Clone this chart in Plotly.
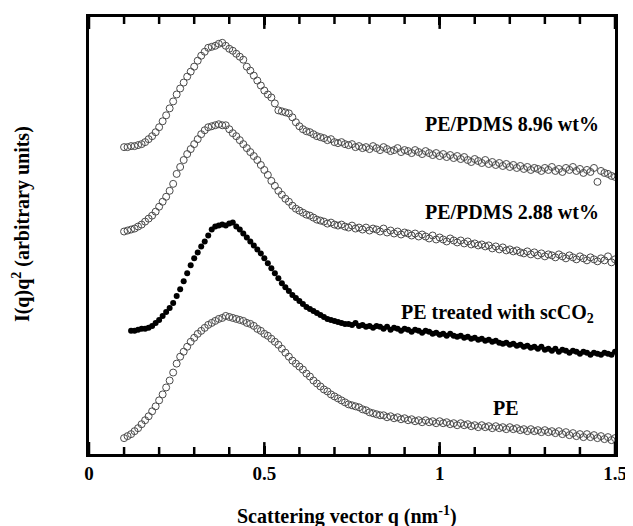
import plotly.graph_objects as go

# Scattering vector q (nm^-1), shared grid
q = [0.10, 0.11, 0.12, 0.13, 0.14, 0.15, 0.16, 0.17, 0.18, 0.19,
     0.20, 0.21, 0.22, 0.23, 0.24, 0.25, 0.26, 0.27, 0.28, 0.29,
     0.30, 0.31, 0.32, 0.33, 0.34, 0.35, 0.36, 0.37, 0.38, 0.39,
     0.40, 0.41, 0.42, 0.43, 0.44, 0.45, 0.46, 0.47, 0.48, 0.49,
     0.50, 0.51, 0.52, 0.53, 0.54, 0.55, 0.56, 0.57, 0.58, 0.59,
     0.60, 0.61, 0.62, 0.63, 0.64, 0.65, 0.66, 0.67, 0.68, 0.69,
     0.70, 0.71, 0.72, 0.73, 0.74, 0.75, 0.76, 0.77, 0.78, 0.79,
     0.80, 0.81, 0.82, 0.83, 0.84, 0.85, 0.86, 0.87, 0.88, 0.89,
     0.90, 0.91, 0.92, 0.93, 0.94, 0.95, 0.96, 0.97, 0.98, 0.99,
     1.00, 1.01, 1.02, 1.03, 1.04, 1.05, 1.06, 1.07, 1.08, 1.09,
     1.10, 1.11, 1.12, 1.13, 1.14, 1.15, 1.16, 1.17, 1.18, 1.19,
     1.20, 1.21, 1.22, 1.23, 1.24, 1.25, 1.26, 1.27, 1.28, 1.29,
     1.30, 1.31, 1.32, 1.33, 1.34, 1.35, 1.36, 1.37, 1.38, 1.39,
     1.40, 1.41, 1.42, 1.43, 1.44, 1.45, 1.46, 1.47, 1.48, 1.49,
     1.50]

# I(q)q^2, arbitrary units (curves shown offset as in the original figure)
pdms_896 = [305, 305, 306, 306, 307, 308, 310, 313, 316, 320,
            325, 331, 337, 344, 351, 358, 364, 370, 376, 381,
            386, 392, 397, 401, 405, 406, 407, 409, 410, 407,
            404, 402, 399, 396, 393, 386, 382, 377, 372, 367,
            362, 358, 355, 349, 342, 341, 340, 339, 335, 330,
            326, 323, 321, 320, 318, 316, 315, 314, 312, 313,
            310, 309, 310, 308, 307, 308, 305, 306, 304, 305,
            303, 306, 304, 302, 305, 303, 301, 302, 304, 300,
            302, 301, 299, 302, 300, 298, 301, 299, 297, 299,
            296, 298, 295, 297, 294, 296, 293, 295, 292, 290,
            293, 291, 289, 292, 288, 290, 287, 289, 286, 288,
            285, 287, 284, 286, 283, 285, 282, 284, 283, 281,
            284, 282, 285, 281, 283, 280, 284, 282, 285, 281,
            283, 279, 282, 280, 284, 270, 281, 279, 278, 276,
            275]

pdms_288 = [220, 221, 222, 223, 225, 227, 230, 233, 236, 240,
            245, 250, 255, 261, 268, 278, 285, 292, 298, 303,
            308, 313, 318, 322, 325, 326, 327, 328, 327, 327,
            323, 319, 316, 312, 308, 304, 300, 296, 292, 287,
            282, 277, 271, 266, 261, 257, 253, 250, 246, 243,
            241, 239, 237, 236, 234, 232, 231, 230, 228, 229,
            227, 226, 227, 225, 224, 226, 223, 224, 222, 224,
            221, 223, 222, 220, 223, 219, 221, 218, 220, 217,
            219, 218, 216, 218, 215, 217, 215, 213, 216, 212,
            214, 212, 210, 213, 211, 209, 211, 208, 210, 207,
            208, 206, 207, 205, 206, 203, 205, 202, 204, 201,
            202, 200, 201, 199, 198, 200, 197, 199, 196, 198,
            195, 197, 196, 194, 197, 195, 193, 196, 194, 192,
            195, 193, 191, 194, 192, 190, 193, 191, 195, 189,
            192]

pe_scco2 = [None, None, 120, 120, 121, 122, 122, 123, 125, 128,
            131, 135, 139, 143, 148, 155, 162, 170, 178, 186,
            193, 199, 205, 210, 216, 222, 225, 226, 227, 226,
            228, 229, 225, 222, 218, 214, 210, 206, 202, 198,
            193, 188, 183, 178, 173, 168, 164, 160, 156, 153,
            150, 147, 144, 142, 140, 138, 136, 134, 132, 131,
            130, 129, 128, 127, 127, 126, 128, 125, 126, 124,
            125, 123, 125, 124, 122, 124, 121, 123, 122, 120,
            122, 121, 119, 121, 120, 118, 120, 119, 117, 118,
            116, 117, 115, 117, 115, 114, 115, 113, 114, 112,
            113, 111, 112, 110, 111, 109, 110, 108, 107, 108,
            106, 107, 105, 106, 104, 105, 103, 104, 102, 104,
            101, 102, 100, 102, 99, 101, 100, 98, 100, 99,
            97, 99, 98, 96, 98, 97, 96, 98, 97, 96,
            99]

pe = [12, 14, 16, 19, 22, 26, 30, 34, 39, 44,
      50, 56, 63, 70, 78, 87, 94, 99, 104, 109,
      113, 117, 120, 123, 126, 128, 130, 132, 133, 135,
      134, 133, 132, 131, 130, 128, 127, 125, 122, 120,
      117, 115, 112, 109, 106, 102, 98, 94, 90, 87,
      84, 81, 77, 74, 70, 67, 64, 61, 59, 56,
      54, 52, 50, 48, 46, 45, 44, 43, 41, 40,
      38, 37, 36, 35, 35, 33, 34, 32, 33, 31,
      32, 30, 31, 29, 30, 28, 30, 28, 29, 27,
      29, 27, 28, 26, 27, 25, 27, 25, 26, 24,
      25, 23, 25, 23, 24, 22, 24, 22, 23, 21,
      23, 21, 22, 20, 21, 19, 21, 19, 20, 18,
      20, 18, 19, 17, 19, 16, 18, 15, 17, 14,
      16, 13, 16, 13, 15, 12, 14, 11, 13, 10,
      12]

x_ticks = [0, 0.5, 1, 1.5]
x_tick_labels = ["0", "0.5", "1", "1.5"]
x_minor_ticks = [0.1, 0.2, 0.3, 0.4, 0.6, 0.7, 0.8, 0.9, 1.1, 1.2, 1.3, 1.4]
x_range = [0, 1.5]
y_range = [-4, 436]

FONT = "Liberation Serif, Times New Roman, serif"
OPEN_COL = "#4a4a4a"

fig = go.Figure()
for ys in (pdms_896, pdms_288, pe):
    fig.add_trace(go.Scatter(
        x=q, y=ys, mode="markers",
        marker=dict(symbol="circle-open", size=7, color=OPEN_COL,
                    line=dict(width=1, color=OPEN_COL)),
        showlegend=False, hoverinfo="skip"))
fig.add_trace(go.Scatter(
    x=q, y=pe_scco2, mode="markers",
    marker=dict(symbol="circle", size=6, color="black"),
    showlegend=False, hoverinfo="skip"))

# Inward tick marks on the bottom and top frame edges (clipped to the plot area)
for ticks_x, size in ((x_ticks, 17), (x_minor_ticks, 10)):
    for edge in (y_range[0], y_range[1]):
        fig.add_trace(go.Scatter(
            x=ticks_x, y=[edge] * len(ticks_x), mode="markers",
            marker=dict(symbol="line-ns-open", size=size, color="black",
                        line=dict(width=2.5, color="black")),
            cliponaxis=True, showlegend=False, hoverinfo="skip"))

labels = [
    dict(text="PE/PDMS 8.96 wt%", x=1.46, y=328, xanchor="right"),
    dict(text="PE/PDMS 2.88 wt%", x=1.46, y=240, xanchor="right"),
    dict(text="PE treated with scCO<sub>2</sub>", x=1.446, y=137, xanchor="right"),
    dict(text="PE", x=1.19, y=42, xanchor="center"),
]
for lb in labels:
    fig.add_annotation(x=lb["x"], y=lb["y"], xref="x", yref="y",
                       text=lb["text"], showarrow=False,
                       xanchor=lb["xanchor"], yanchor="middle",
                       font=dict(family=FONT, size=20, color="black", weight="bold"))

fig.add_annotation(xref="paper", yref="paper", x=(21 - 89) / 530, y=(454 - 223) / 440,
                   text="I(q)q<sup>2</sup> (arbitrary units)", textangle=-90,
                   showarrow=False, xanchor="center", yanchor="middle",
                   font=dict(family=FONT, size=20, color="black", weight="bold"))
fig.add_annotation(xref="paper", yref="paper", x=(349 - 89) / 530, y=(454 - 516) / 440,
                   text="Scattering vector q (nm<sup>-1</sup>)",
                   showarrow=False, xanchor="center", yanchor="middle",
                   font=dict(family=FONT, size=20, color="black", weight="bold"))

fig.update_layout(
    width=625, height=518,
    margin=dict(l=81, r=14, t=6, b=72),
    paper_bgcolor="white", plot_bgcolor="white",
    xaxis=dict(range=x_range, tickmode="array", tickvals=x_ticks,
               ticktext=x_tick_labels,
               ticks="inside", ticklen=8, tickwidth=2.5, tickcolor="black",
               showline=True, linewidth=3, linecolor="black", mirror="ticks",
               showgrid=False, zeroline=False,
               tickfont=dict(family=FONT, size=19, color="black", weight="bold")),
    yaxis=dict(range=y_range, showticklabels=False, ticks="",
               showline=True, linewidth=3, linecolor="black", mirror=True,
               showgrid=False, zeroline=False),
)

fig.write_html("out.html")
